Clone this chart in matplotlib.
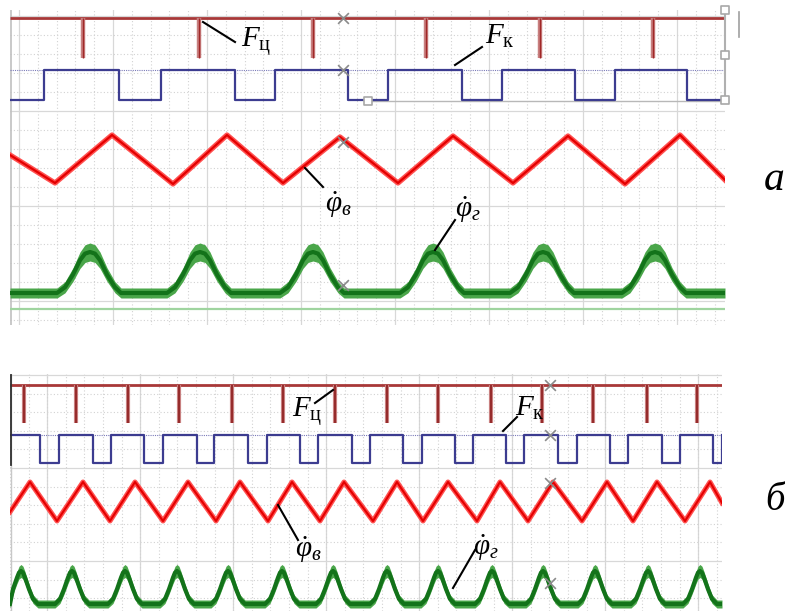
import numpy as np
import matplotlib
matplotlib.use("Agg")
import matplotlib.pyplot as plt
from matplotlib.ticker import FixedLocator

plt.rcParams['mathtext.fontset'] = 'custom'
plt.rcParams['mathtext.it'] = 'Liberation Serif:italic'
plt.rcParams['mathtext.rm'] = 'Liberation Serif'
plt.rcParams['mathtext.bf'] = 'Liberation Serif:bold'

# ---------------- data (time in screen-sample units, levels in trace units) ----------
# panel a
a_fc_level = 18
a_fc_pulse_bottom = 58
a_fc_pulses = [83, 199, 313, 426, 540, 653]
a_fk_times = [10, 44, 119, 161, 235, 275, 348, 388, 462, 502, 575, 615, 687, 725]
a_fk_states = [100, 70, 100, 70, 100, 70, 100, 70, 100, 70, 100, 70, 100, 100]
a_phv_t = [10, 55, 112, 173, 227, 283, 340, 398, 453, 513, 568, 625, 680, 725]
a_phv_y = [155, 183, 135, 184, 135, 183, 137, 183, 136, 183, 136, 184, 135, 180]
a_phg_peaks = [90, 200, 313, 433, 543, 655]
a_phg_base = 293
a_phg_peak_level = 252
a_bump_dx = [-33, -25, -17, -10, -5, 0, 5, 10, 17, 25, 31]
a_bump_frac = [0.0, 0.14, 0.45, 0.8, 0.96, 1.0, 0.96, 0.8, 0.45, 0.14, 0.0]
a_markers_t = [343, 343, 343, 343]
a_markers_y = [18, 70, 142, 285]

# panel b
b_fc_level = 385
b_fc_pulse_bottom = 423
b_fc_pulses = [24, 76, 128, 179, 232, 283, 335, 387, 438, 491, 542, 593, 647, 697]
b_fk_low = [(40, 59), (93, 111), (144, 163), (197, 214), (248, 267), (300, 318),
            (352, 370), (403, 422), (455, 473), (506, 524), (558, 577), (610, 628),
            (662, 680), (713, 722)]
b_fk_high_level = 435
b_fk_low_level = 463
b_phv_t = [10, 30, 57, 83, 110, 135, 163, 188, 216, 240, 268, 292, 320, 344, 373,
           397, 423, 448, 477, 500, 528, 553, 582, 607, 633, 657, 685, 710, 722]
b_phv_y = [512, 482, 521, 482, 521, 482, 521, 482, 521, 482, 521, 482, 521, 482, 521,
           482, 521, 482, 521, 482, 521, 482, 521, 482, 521, 482, 521, 482, 503]
b_phg_peaks = [21, 72, 125, 177, 228, 282, 333, 387, 438, 492, 543, 595, 648, 700]
b_phg_base = 604
b_phg_peak_level = 571
b_bump_dx = [-17, -12, -8, -4, -2, 0, 2, 4, 8, 12, 17]
b_bump_frac = [0.0, 0.15, 0.45, 0.8, 0.95, 1.0, 0.95, 0.8, 0.45, 0.15, 0.0]
b_markers_t = [550, 550, 550, 550]
b_markers_y = [385, 435, 483, 583]

W, H = 785, 611
fig = plt.figure(figsize=(W / 100, H / 100), dpi=100)


def axes_px(x0, x1, y0, y1):
    return fig.add_axes([x0 / W, 1 - y1 / H, (x1 - x0) / W, (y1 - y0) / H])


def style_grid(ax, xmaj, xmin, ymaj, ymin):
    ax.xaxis.set_major_locator(FixedLocator(xmaj))
    ax.xaxis.set_minor_locator(FixedLocator(xmin))
    ax.yaxis.set_major_locator(FixedLocator(ymaj))
    ax.yaxis.set_minor_locator(FixedLocator(ymin))
    ax.grid(which='major', color='#d8d8d8', lw=0.9, ls='-')
    ax.grid(which='minor', color='#d2d2d2', lw=0.8, ls=(0, (1, 2)))
    ax.tick_params(which='both', length=0, labelbottom=False, labelleft=False)
    for s in ax.spines.values():
        s.set_visible(False)
    ax.set_axisbelow(True)


def green_band(ax, peaks, base, peak_level, dx, frac, x0, x1, hw_base, hw_peak):
    t = [x0]
    c = [base]
    hw = [hw_base]
    for p in peaks:
        for d, f in zip(dx, frac):
            tt = p + d
            if x0 <= tt <= x1:
                t.append(tt)
                c.append(base + (peak_level - base) * f)
                hw.append(hw_base + (hw_peak - hw_base) * f)
    t.append(x1)
    c.append(base)
    hw.append(hw_base)
    t = np.array(t); c = np.array(c); hw = np.array(hw)
    ax.fill_between(t, c - hw, c + hw, color='#4aa64a', lw=0, zorder=3)
    ax.plot(t, c, color='#13731a', lw=3.0, zorder=4)


# ---------------- panel a ----------------
axa = axes_px(10, 725, 10, 325)
axa.set_xlim(10, 725)
axa.set_ylim(325, 10)
style_grid(axa,
           [19 + 94 * k for k in range(8)],
           [19 + 18.8 * k for k in range(40)],
           [16 + 95 * k for k in range(4)],
           [16 + 19 * k for k in range(17)])
axa.axvline(10.5, color='#c0c0c0', lw=1.2)
# F_ц
axa.hlines(a_fc_level, 10, 725, color='#a83838', lw=2.0, zorder=3)
axa.vlines(a_fc_pulses, a_fc_level, a_fc_pulse_bottom, color='#c88080', lw=3.2, zorder=3)
axa.vlines(a_fc_pulses, a_fc_level, a_fc_pulse_bottom, color='#a02828', lw=1.0, zorder=3)
# F_к
axa.hlines(70, 10, 725, color='#7a7ab8', lw=0.8, ls=(0, (1, 1)), zorder=2)
axa.step(a_fk_times, a_fk_states, where='post', color='#3c3c90', lw=1.6, zorder=3)
# frame of the top strip
axa.plot([725, 725], [10, 100], color='#b0b0b0', lw=1.5, clip_on=False, zorder=3)
axa.plot([368, 725], [100.5, 100.5], color='#b8b8b8', lw=1.0, clip_on=False, zorder=2)
axa.scatter([725, 725, 368, 725], [55, 100, 101, 10], s=30, marker='s',
            facecolor='white', edgecolor='#a8a8a8', lw=1.2, zorder=5, clip_on=False)
axa.plot([739, 739], [12, 37], color='#a0a0a0', lw=1.2, clip_on=False)
# φв
axa.plot(a_phv_t, a_phv_y, color='#ff5050', lw=3.8, zorder=3)
axa.plot(a_phv_t, a_phv_y, color='#e40000', lw=1.6, zorder=3)
# φг
axa.hlines(309, 10, 725, color='#9fd49f', lw=1.6, zorder=2)
green_band(axa, a_phg_peaks, a_phg_base, a_phg_peak_level, a_bump_dx, a_bump_frac,
           10, 725, 5.0, 9.0)
axa.scatter(a_markers_t, a_markers_y, marker='x', s=60, color='#8a8a8a', lw=1.2, zorder=6)

# ---------------- panel b ----------------
axb = axes_px(10, 722, 374, 611)
axb.set_xlim(10, 722)
axb.set_ylim(611, 374)
style_grid(axb,
           [47 + 93 * k for k in range(8)],
           [10 + 18.6 * k for k in range(40)],
           [375 + 93 * k for k in range(4)],
           [375 + 18.6 * k for k in range(14)])
axb.plot([11, 11], [375, 465], color='#303030', lw=1.3, zorder=4)
axb.axvline(11, color='#c8c8c8', lw=1.0)
axb.hlines(b_fc_level, 10, 722, color='#a83838', lw=2.0, zorder=3)
axb.vlines(b_fc_pulses, b_fc_level, b_fc_pulse_bottom, color='#c88080', lw=3.0, zorder=3)
axb.vlines(b_fc_pulses, b_fc_level, b_fc_pulse_bottom, color='#8c1c1c', lw=1.2, zorder=3)
bt = [10]
by = [b_fk_high_level]
for lo, hi in b_fk_low:
    bt += [lo, hi]
    by += [b_fk_low_level, b_fk_high_level]
bt.append(722)
by.append(by[-1])
axb.hlines(b_fk_high_level, 10, 722, color='#7a7ab8', lw=0.8, ls=(0, (1, 1)), zorder=2)
axb.step(bt, by, where='post', color='#3c3c90', lw=1.6, zorder=3)
axb.plot(b_phv_t, b_phv_y, color='#ff5050', lw=3.6, zorder=3)
axb.plot(b_phv_t, b_phv_y, color='#e40000', lw=1.5, zorder=3)
green_band(axb, b_phg_peaks, b_phg_base, b_phg_peak_level, b_bump_dx, b_bump_frac,
           10, 722, 4.0, 6.5)
axb.scatter(b_markers_t, b_markers_y, marker='x', s=60, color='#8a8a8a', lw=1.2, zorder=6)

# ---------------- annotations (figure pixel frame) ----------------
ann = fig.add_axes([0, 0, 1, 1])
ann.set_xlim(0, W)
ann.set_ylim(H, 0)
ann.axis('off')

leaders = [((203, 22), (235, 42)), ((455, 65), (482, 47)),
           ((305, 168), (323, 187)), ((435, 250), (455, 220)),
           ((315, 403), (333, 390)), ((503, 431), (517, 417)),
           ((278, 505), (298, 540)), ((453, 588), (475, 550))]
for (x0, y0), (x1, y1) in leaders:
    ann.plot([x0, x1], [y0, y1], color='black', lw=1.5)

lab_fs = 21
ann.text(241, 42, r'$F_{\mathrm{ц}}$', fontsize=lab_fs, va='center', ha='left')
ann.text(485, 36, r'$F_{\mathrm{к}}$', fontsize=lab_fs, va='center', ha='left')
ann.text(325, 205, r'$\dot{\varphi}_{\mathit{в}}$', fontsize=lab_fs, va='center', ha='left')
ann.text(455, 210, r'$\dot{\varphi}_{\mathit{г}}$', fontsize=lab_fs, va='center', ha='left')
ann.text(292, 412, r'$F_{\mathrm{ц}}$', fontsize=lab_fs, va='center', ha='left')
ann.text(515, 408, r'$F_{\mathrm{к}}$', fontsize=lab_fs, va='center', ha='left')
ann.text(295, 550, r'$\dot{\varphi}_{\mathit{в}}$', fontsize=lab_fs, va='center', ha='left')
ann.text(473, 548, r'$\dot{\varphi}_{\mathit{г}}$', fontsize=lab_fs, va='center', ha='left')

ann.text(774, 180, 'a', fontsize=30, family='Liberation Serif', style='italic',
         ha='center', va='center')
ann.text(775, 500, 'б', fontsize=28, family='Liberation Serif', style='italic',
         ha='center', va='center')

fig.savefig('out.png', dpi=100)
